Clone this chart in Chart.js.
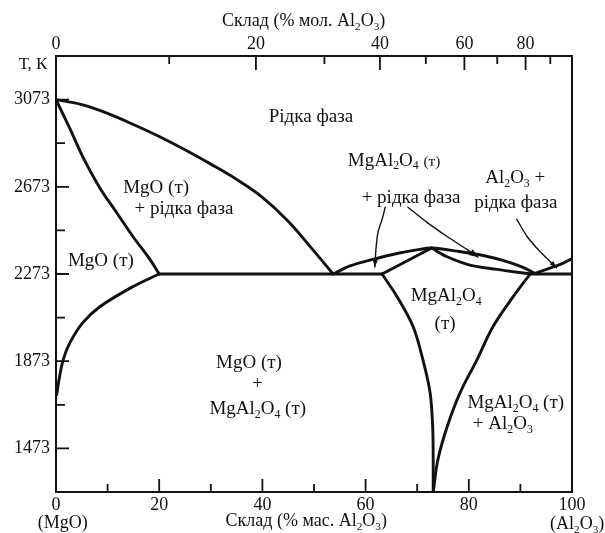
<!DOCTYPE html>
<html>
<head>
<meta charset="utf-8">
<script src="https://cdn.jsdelivr.net/npm/chart.js@4/dist/chart.umd.min.js"></script>
<style>
html,body{margin:0;padding:0;background:#fff;}
#wrap{width:605px;height:533px;position:relative;}
</style>
</head>
<body>
<div id="wrap"><canvas id="c" width="605" height="533"></canvas></div>
<script>
// ---------- axes / ticks ----------
const massTicks = [0, 20, 40, 60, 80, 100];      // bottom axis, % mass Al2O3
const massMinor = [10, 30, 50, 70, 90];
const molTicks  = [0, 20, 40, 60, 80];           // top axis, % mol Al2O3
const molMinor  = [10, 30, 50, 70, 90];
const tempTicks = [1473, 1873, 2273, 2673, 3073]; // K
const tempMinor = [1673, 2073, 2473, 2873];
const M_AL2O3 = 101.96, M_MGO = 40.30;

// ---------- phase boundaries (x: % mass Al2O3, y: T, K) ----------
const liqMgO_x   = [0, 5, 10, 15, 20, 25, 30, 35, 40, 45, 50, 53.7];
const liqMgO_y   = [3073, 3050, 3010, 2959, 2904, 2843, 2777, 2707, 2625, 2515, 2378, 2273];

const solMgO_x   = [0, 2.7, 5.2, 8.5, 11.8, 14.9, 18.2, 20];
const solMgO_y   = [3073, 2940, 2810, 2668, 2553, 2445, 2340, 2273];

const solvMgO_x  = [20, 14.9, 8.5, 5.2, 2.7, 1.4, 0.6, 0.15];
const solvMgO_y  = [2273, 2215, 2123, 2050, 1958, 1880, 1790, 1720];

const eut1_x     = [20, 63.2];
const eut1_y     = [2273, 2273];

const eut2_x     = [91.9, 100];
const eut2_y     = [2273, 2273];

const liqSp_x    = [53.7, 57, 61.4, 66.1, 70.5, 72.8, 77.7, 82.8, 87.4, 90.5, 92.8];
const liqSp_y    = [2273, 2310, 2340, 2367, 2386, 2392, 2378, 2358, 2330, 2303, 2276];

const solSpL_x   = [63.2, 72.8];
const solSpL_y   = [2273, 2392];

const solSpR_x   = [72.8, 75.8, 80.2, 85.5, 89, 91.9];
const solSpR_y   = [2392, 2352, 2314, 2294, 2282, 2274];

const liqAl_x    = [92.8, 97.7, 100];
const liqAl_y    = [2276, 2317, 2344];

const solvSpL_x  = [63.2, 66.1, 69.2, 71.1, 72.5, 73.0, 73.1, 73.1];
const solvSpL_y  = [2273, 2169, 2032, 1880, 1728, 1572, 1420, 1273];

const solvSpR_x  = [91.9, 88.6, 84.7, 81.6, 78.3, 75.8, 74.0, 73.1];
const solvSpR_y  = [2273, 2169, 2032, 1880, 1728, 1572, 1420, 1273];

// leader lines from labels
const lead1_x = [63.8, 63.2, 62.4, 62.0, 61.8];
const lead1_y = [2579, 2524, 2464, 2386, 2305];
const lead2_x = [68.2, 71.9, 75.8, 79.7, 81.8];
const lead2_y = [2579, 2510, 2445, 2385, 2350];
const lead3_x = [89.3, 91.3, 93.8, 97.0];
const lead3_y = [2524, 2445, 2376, 2302];

// ---------- region labels ("_d" = subscript, "~" toggles smaller text) ----------
const labelText = ['Рідка фаза', 'MgO (т)', '+ рідка фаза', 'MgO (т)',
  'MgAl_2O_4 ~(т)~', '+ рідка фаза', 'Al_2O_3 +', 'рідка фаза',
  'MgAl_2O_4', '(т)', 'MgO (т)', '+', 'MgAl_2O_4 (т)', 'MgAl_2O_4 (т)', '+ Al_2O_3'];
const labelX = [49.4, 19.4, 24.8, 8.7, 65.5, 68.8, 89.0, 89.1, 75.6, 75.4, 37.4, 39.0, 39.1, 89.1, 86.6];
const labelY = [2997, 2675, 2579, 2340, 2799, 2629, 2717, 2606, 2179, 2050, 1871, 1774, 1659, 1687, 1590];

const topTitle = 'Склад (% мол. Al_2O_3)';
const bottomTitle = 'Склад (% мас. Al_2O_3)';
const yTitle = 'Т, К';
const leftEnd = '(MgO)';
const rightEnd = '(Al_2O_3)';

// ---------- helpers ----------
const SERIF = '"Liberation Serif", "DejaVu Serif", serif';
function molToMass(m) {
  return m * M_AL2O3 / (m * M_AL2O3 + (100 - m) * M_MGO) * 100;
}
function pts(xs, ys) { return xs.map((x, i) => ({ x: x, y: ys[i] })); }
function curve(xs, ys, tension, width) {
  return {
    data: pts(xs, ys), showLine: true, borderColor: '#111', borderWidth: width || 2.9,
    pointRadius: 0, pointHoverRadius: 0, tension: tension, fill: false,
    borderCapStyle: 'round', borderJoinStyle: 'round'
  };
}

function drawRich(ctx, text, cx, cy, size) {
  const segs = [];
  let small = false;
  for (let i = 0; i < text.length; i++) {
    const ch = text[i];
    if (ch === '_') { segs.push({ t: text[i + 1], sub: true, small: small }); i++; continue; }
    if (ch === '~') { small = !small; continue; }
    const last = segs[segs.length - 1];
    if (last && !last.sub && last.small === small) last.t += ch;
    else segs.push({ t: ch, sub: false, small: small });
  }
  let total = 0;
  segs.forEach(s => {
    s.size = s.sub ? size * 0.62 : (s.small ? size * 0.8 : size);
    ctx.font = s.size.toFixed(1) + 'px ' + SERIF;
    s.w = ctx.measureText(s.t).width;
    total += s.w;
  });
  let x = cx - total / 2;
  const base = cy + size * 0.33;
  ctx.textAlign = 'left';
  ctx.textBaseline = 'alphabetic';
  segs.forEach(s => {
    ctx.font = s.size.toFixed(1) + 'px ' + SERIF;
    ctx.fillText(s.t, x, base + (s.sub ? size * 0.2 : 0));
    x += s.w;
  });
}

function arrowHead(ctx, xs, ys, sx, sy, len, half) {
  const n = xs.length;
  const x1 = sx.getPixelForValue(xs[n - 2]), y1 = sy.getPixelForValue(ys[n - 2]);
  const x2 = sx.getPixelForValue(xs[n - 1]), y2 = sy.getPixelForValue(ys[n - 1]);
  const a = Math.atan2(y2 - y1, x2 - x1);
  ctx.beginPath();
  ctx.moveTo(x2, y2);
  ctx.lineTo(x2 - len * Math.cos(a) + half * Math.sin(a), y2 - len * Math.sin(a) - half * Math.cos(a));
  ctx.lineTo(x2 - len * Math.cos(a) - half * Math.sin(a), y2 - len * Math.sin(a) + half * Math.cos(a));
  ctx.closePath();
  ctx.fill();
}

const decor = {
  id: 'decor',
  afterDatasetsDraw(chart) {
    const ctx = chart.ctx, a = chart.chartArea;
    const sx = chart.scales.x, sy = chart.scales.y;
    ctx.save();
    ctx.strokeStyle = '#111';
    ctx.fillStyle = '#111';
    // frame
    ctx.lineWidth = 2;
    ctx.strokeRect(a.left, a.top, a.right - a.left, a.bottom - a.top);
    // inward ticks
    ctx.lineWidth = 1.8;
    ctx.beginPath();
    massTicks.filter(v => v > 0 && v < 100).forEach(v => {
      const p = sx.getPixelForValue(v); ctx.moveTo(p, a.bottom); ctx.lineTo(p, a.bottom - 13);
    });
    massMinor.forEach(v => {
      const p = sx.getPixelForValue(v); ctx.moveTo(p, a.bottom); ctx.lineTo(p, a.bottom - 8);
    });
    molTicks.filter(v => v > 0).forEach(v => {
      const p = sx.getPixelForValue(molToMass(v)); ctx.moveTo(p, a.top); ctx.lineTo(p, a.top + 14);
    });
    molMinor.forEach(v => {
      const p = sx.getPixelForValue(molToMass(v)); ctx.moveTo(p, a.top); ctx.lineTo(p, a.top + 8);
    });
    tempTicks.forEach(v => {
      const p = sy.getPixelForValue(v); ctx.moveTo(a.left, p); ctx.lineTo(a.left + 13, p);
    });
    tempMinor.forEach(v => {
      const p = sy.getPixelForValue(v); ctx.moveTo(a.left, p); ctx.lineTo(a.left + 9, p);
    });
    ctx.stroke();
    // arrowheads of leader lines
    arrowHead(ctx, lead1_x, lead1_y, sx, sy, 7, 2.5);
    arrowHead(ctx, lead2_x, lead2_y, sx, sy, 9, 3.5);
    arrowHead(ctx, lead3_x, lead3_y, sx, sy, 7, 2.5);
    // region labels
    labelText.forEach((t, i) => {
      drawRich(ctx, t, sx.getPixelForValue(labelX[i]), sy.getPixelForValue(labelY[i]), 19);
    });
    // axis titles
    drawRich(ctx, topTitle, sx.getPixelForValue(48), a.top - 36, 18);
    drawRich(ctx, bottomTitle, sx.getPixelForValue(48.5), a.bottom + 28, 18);
    drawRich(ctx, leftEnd, sx.getPixelForValue(1.3), a.bottom + 30, 18);
    drawRich(ctx, rightEnd, sx.getPixelForValue(101), a.bottom + 31, 18);
    drawRich(ctx, yTitle, a.left - 23, a.top + 7, 17);
    ctx.restore();
  }
};

const datasets = [
  curve(liqMgO_x, liqMgO_y, 0.35),
  curve(solMgO_x, solMgO_y, 0.35),
  curve(solvMgO_x, solvMgO_y, 0.35),
  curve(eut1_x, eut1_y, 0),
  curve(eut2_x, eut2_y, 0),
  curve(liqSp_x, liqSp_y, 0.35),
  curve(solSpL_x, solSpL_y, 0),
  curve(solSpR_x, solSpR_y, 0.35),
  curve(liqAl_x, liqAl_y, 0.3),
  curve(solvSpL_x, solvSpL_y, 0.35),
  curve(solvSpR_x, solvSpR_y, 0.35),
  curve(lead1_x, lead1_y, 0.3, 1.4),
  curve(lead2_x, lead2_y, 0.3, 1.4),
  curve(lead3_x, lead3_y, 0.3, 1.4)
];

const tickFont = { family: SERIF, size: 18 };
new Chart(document.getElementById('c'), {
  type: 'scatter',
  data: { datasets: datasets },
  plugins: [decor],
  options: {
    responsive: false,
    animation: false,
    events: [],
    layout: { padding: { left: 0, right: 33, top: 0, bottom: 0 } },
    plugins: { legend: { display: false }, tooltip: { enabled: false }, title: { display: false } },
    scales: {
      x: {
        type: 'linear', position: 'bottom', min: 0, max: 100,
        afterBuildTicks: s => { s.ticks = massTicks.map(v => ({ value: v })); },
        afterFit: s => { s.height = 41; },
        grid: { display: false, drawTicks: false },
        border: { display: true, color: '#111', width: 2 },
        ticks: { color: '#111', font: tickFont, padding: 2, maxRotation: 0, autoSkip: false,
                 callback: v => String(v) }
      },
      xTop: {
        type: 'linear', position: 'top', min: 0, max: 100,
        afterBuildTicks: s => { s.ticks = molTicks.map(m => ({ value: molToMass(m) })); },
        afterFit: s => { s.height = 56; },
        grid: { display: false, drawTicks: false },
        border: { display: true, color: '#111', width: 2 },
        ticks: { color: '#111', font: tickFont, padding: 1, maxRotation: 0, autoSkip: false,
                 callback: (v, i) => String(molTicks[i]) }
      },
      y: {
        type: 'linear', position: 'left', min: 1273, max: 3273,
        afterBuildTicks: s => { s.ticks = tempTicks.map(v => ({ value: v })); },
        afterFit: s => { s.width = 56; },
        grid: { display: false, drawTicks: false },
        border: { display: true, color: '#111', width: 2 },
        ticks: { color: '#111', font: tickFont, padding: 6, autoSkip: false,
                 callback: v => String(v) }
      }
    }
  }
});
</script>
</body>
</html>
